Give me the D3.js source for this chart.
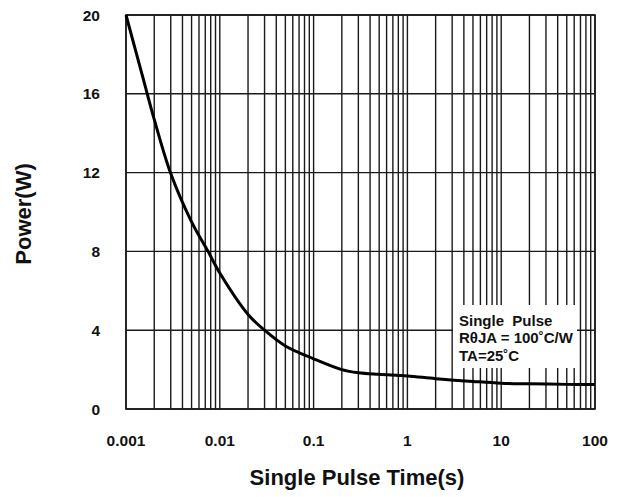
<!DOCTYPE html>
<html><head><meta charset="utf-8">
<script src="https://cdn.jsdelivr.net/npm/d3@7"></script>
<style>html,body{margin:0;padding:0;background:#fff}svg{display:block;font-family:Arial,"Liberation Sans",sans-serif}</style>
</head><body>
<script>
const timeValues = [0.001,0.0015,0.002,0.003,0.005,0.0075,0.01,0.02,0.03,0.05,0.1,0.2,0.3,0.5,1,2,5,10,20,50,100];
const powerValues = [20,16.9,14.7,11.95,9.5,8.0,6.9,4.8,4.0,3.2,2.55,2.0,1.84,1.76,1.68,1.54,1.4,1.31,1.28,1.25,1.24];
const xTickValues = [0.001,0.01,0.1,1,10,100];
const xTickLabels = ["0.001","0.01","0.1","1","10","100"];
const yTickValues = [0,4,8,12,16,20];
const legendLines = ["Single  Pulse","R\u03B8JA = 100\u02DAC/W","TA=25\u02DAC"];
const xTitle = "Single Pulse Time(s)";
const yTitle = "Power(W)";

const W=619,H=497;
const m={left:126,top:15,right:595,bottom:409};
const svg=d3.select("body").append("svg").attr("width",W).attr("height",H);
const x=d3.scaleLog().domain([0.001,100]).range([m.left,m.right]);
const y=d3.scaleLinear().domain([0,20]).range([m.bottom,m.top]);

const grid=svg.append("g").attr("stroke","#1a1a1a").attr("stroke-width",1.4);
grid.selectAll("line.v").data(x.ticks()).join("line")
  .attr("x1",d=>x(d)).attr("x2",d=>x(d)).attr("y1",m.top).attr("y2",m.bottom);
grid.selectAll("line.h").data(yTickValues).join("line")
  .attr("x1",m.left).attr("x2",m.right).attr("y1",d=>y(d)).attr("y2",d=>y(d));
svg.append("rect").attr("x",m.left).attr("y",m.top).attr("width",m.right-m.left).attr("height",m.bottom-m.top)
  .attr("fill","none").attr("stroke","#1a1a1a").attr("stroke-width",1.6);

const line=d3.line().x((d,i)=>x(timeValues[i])).y(d=>y(d)).curve(d3.curveCatmullRom.alpha(0.5));
svg.append("path").datum(powerValues).attr("d",line).attr("fill","none").attr("stroke","#000").attr("stroke-width",3);

// legend box
svg.append("rect").attr("x",453).attr("y",305).attr("width",124).attr("height",63).attr("fill","#fff");
svg.append("g").selectAll("text").data(legendLines).join("text")
  .attr("x",459).attr("y",(d,i)=>326+i*17.3).attr("font-size",15).attr("font-weight","bold")
  .attr("fill","#111").style("white-space","pre").text(d=>d);

// ticks
svg.append("g").selectAll("text").data(yTickValues).join("text")
  .attr("x",100).attr("y",d=>y(d)).attr("dy","0.36em").attr("text-anchor","end")
  .attr("font-size",15.5).attr("font-weight","bold").attr("fill","#111").text(d=>d);
svg.append("g").selectAll("text").data(xTickValues).join("text")
  .attr("x",d=>x(d)).attr("y",446).attr("text-anchor","middle")
  .attr("font-size",15.5).attr("font-weight","bold").attr("fill","#111").text((d,i)=>xTickLabels[i]);

svg.append("text").attr("x",357).attr("y",485).attr("text-anchor","middle")
  .attr("font-size",22).attr("font-weight","bold").attr("fill","#111").text(xTitle);
svg.append("text").attr("transform","translate(31,214) rotate(-90)").attr("text-anchor","middle")
  .attr("font-size",22).attr("font-weight","bold").attr("fill","#111").text(yTitle);
</script>
</body></html>
